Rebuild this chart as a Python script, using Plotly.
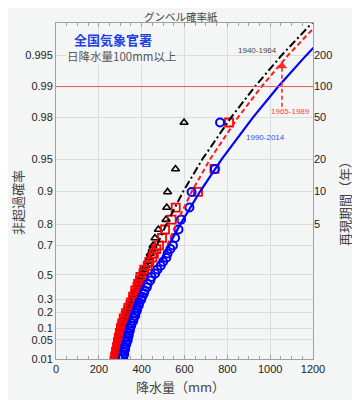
import numpy as np
import plotly.graph_objects as go

# ---------------- data ----------------
# non-exceedance probabilities of the dense lower part of each sample
p_band = [0.004, 0.006, 0.008, 0.010, 0.013, 0.016, 0.020, 0.025, 0.030, 0.036,
          0.043, 0.050, 0.058, 0.067, 0.077, 0.088, 0.100, 0.113, 0.127, 0.142,
          0.158, 0.175, 0.193, 0.212, 0.232, 0.253, 0.275, 0.298, 0.322, 0.347,
          0.373, 0.400, 0.427, 0.455, 0.483, 0.511, 0.540, 0.568, 0.596, 0.624,
          0.651, 0.678]
# non-exceedance probabilities of the largest values (ranks 18-25 of 25)
p_top = [0.699, 0.7389, 0.7787, 0.8185, 0.8583, 0.8981, 0.9379, 0.9777]

x_1940 = [272, 277, 279, 284, 283, 289, 288, 293, 292, 298, 297, 302, 302, 307,
          306, 312, 311, 318, 318, 326, 325, 333, 335, 342, 344, 351, 353, 361,
          362, 370, 371, 380, 381, 391, 395, 405, 409, 421, 426, 435, 440, 449,
          453, 462, 478, 514, 517, 521, 558, 598]
x_1965 = [262, 270, 271, 277, 276, 283, 280, 287, 285, 291, 289, 296, 293, 300,
          298, 305, 303, 311, 309, 318, 316, 325, 327, 336, 338, 347, 350, 361,
          360, 371, 370, 380, 383, 392, 394, 408, 412, 429, 436, 450, 457, 468,
          481, 495, 509, 540, 559, 663, 740, 808]
x_1990 = [297, 305, 308, 314, 313, 319, 318, 323, 321, 328, 330, 335, 334, 340,
          339, 345, 344, 351, 353, 361, 362, 370, 369, 378, 379, 387, 388, 398,
          402, 410, 414, 424, 428, 440, 446, 463, 474, 489, 500, 515, 521, 534,
          546, 556, 572, 584, 623, 633, 742, 766]

# fitted distribution curves
p_fit = [0.6, 0.7, 0.8, 0.9, 0.95, 0.98, 0.99, 0.995, 0.998]
fit_1940 = [None, 471, 515, 595, 684, 817, 929, 1052, 1231]
fit_1965 = [None, 520, 560, 635, 720, 849, 960, 1082, 1261]
fit_1990 = [490, 527, 580, 674, 774, 919, 1038, 1167, 1350]

p_ticks = [0.01, 0.05, 0.1, 0.2, 0.3, 0.5, 0.7, 0.8, 0.9, 0.95, 0.98, 0.99, 0.995]
p_tick_text = ["0.01", "0.05", "0.1", "0.2", "0.3", "0.5", "0.7", "0.8", "0.9",
               "0.95", "0.98", "0.99", "0.995"]
T_ticks = [5, 10, 20, 50, 100, 200]


def gum(p):
    return [None if v is None else -np.log(-np.log(v)) for v in p]


p_all = p_band + p_top

fig = go.Figure()
fig.add_trace(go.Scatter(x=x_1940, y=gum(p_all), mode="markers",
                         marker=dict(symbol="triangle-up-open", size=7, color="black",
                                     line=dict(width=1.6, color="black")),
                         showlegend=False))
fig.add_trace(go.Scatter(x=x_1965, y=gum(p_all), mode="markers",
                         marker=dict(symbol="square-open", size=8, color="#ff0000",
                                     line=dict(width=1.8, color="#ff0000")),
                         showlegend=False))
fig.add_trace(go.Scatter(x=x_1990, y=gum(p_all), mode="markers",
                         marker=dict(symbol="circle-open", size=8, color="#0000ff",
                                     line=dict(width=2, color="#0000ff")),
                         showlegend=False))

fig.add_trace(go.Scatter(x=fit_1940, y=gum(p_fit), mode="lines",
                         line=dict(color="black", width=2, dash="8px,3px,2px,3px"),
                         showlegend=False))
fig.add_trace(go.Scatter(x=fit_1965, y=gum(p_fit), mode="lines",
                         line=dict(color="#ff1a1a", width=2, dash="5px,3px"),
                         showlegend=False))
fig.add_trace(go.Scatter(x=fit_1990, y=gum(p_fit), mode="lines",
                         line=dict(color="#0000ff", width=2.2),
                         showlegend=False))

# dummy trace on the return-period axis
fig.add_trace(go.Scatter(x=[None], y=[None], yaxis="y2", showlegend=False))

# arrow for 1965-1989
arrow_x = [1055, 1055]
arrow_p = [0.9843, 0.9935]
fig.add_trace(go.Scatter(x=arrow_x, y=gum(arrow_p), mode="lines",
                         line=dict(color="#ff2a2a", width=1.6, dash="4px,3px"),
                         showlegend=False))
fig.add_trace(go.Scatter(x=[arrow_x[1]], y=gum([0.9937]), mode="markers",
                         marker=dict(symbol="triangle-up", size=9, color="#ff2a2a"),
                         showlegend=False))

yr = [-np.log(-np.log(0.01)), 6.03]
grid = "#dcdcdc"
# page pixels of the plot area (the page body has an 8px margin)
OFF = 8
L, R, T, B = 56, 313, 23, 359
FW, FH = 360 - OFF, 400 - OFF
fig.update_layout(
    width=FW, height=FH,
    margin=dict(l=L - OFF, r=FW - (R - OFF), t=T - OFF, b=FH - (B - OFF), pad=0),
    paper_bgcolor="#f4f6f6", plot_bgcolor="#f4f6f6",
    font=dict(family="Liberation Sans, Arial, sans-serif", size=11, color="#222"),
    xaxis=dict(range=[0, 1200], tickvals=[0, 200, 400, 600, 800, 1000, 1200],
               showgrid=True, gridcolor=grid, gridwidth=1, zeroline=False,
               showline=True, linecolor="#a0a0a0", mirror="ticks",
               ticks="inside", ticklen=4, tickcolor="#a0a0a0",
               minor=dict(dtick=50, ticks="inside", ticklen=3, tickcolor="#a0a0a0",
                          showgrid=False),
               tickfont=dict(size=11, color="#222")),
    yaxis=dict(range=yr, tickvals=gum(p_ticks), ticktext=p_tick_text,
               showgrid=True, gridcolor=grid, gridwidth=1, zeroline=False,
               showline=True, linecolor="#a0a0a0", mirror=True,
               ticks="", tickfont=dict(size=11, color="#222")),
    yaxis2=dict(range=yr, overlaying="y", side="right",
                tickvals=gum([1 - 1 / T for T in T_ticks]),
                ticktext=[str(T) for T in T_ticks],
                showgrid=False, zeroline=False, showline=False, ticks="",
                tickfont=dict(size=11, color="#222")),
)

# red reference line at p = 0.99
fig.add_shape(type="line", xref="paper", x0=0, x1=1, yref="y",
              y0=gum([0.99])[0], y1=gum([0.99])[0],
              line=dict(color="#e05a5a", width=1))

jp = "Noto Sans CJK JP"


def px(xp, yp):
    return (xp - L) / (R - L), (B - yp) / (B - T)


def ann(text, xp, yp, size, color, angle=0, bold=False, family=jp, bg=None):
    x, y = px(xp, yp)
    fig.add_annotation(text=f"<b>{text}</b>" if bold else text, x=x, y=y,
                       xref="paper", yref="paper", showarrow=False,
                       textangle=angle, font=dict(family=family, size=size, color=color),
                       xanchor="center", yanchor="middle", bgcolor=bg, borderpad=0)


ann("グンベル確率紙", 181, 16, 10.5, "#444")
ann("全国気象官署", 113, 39, 13, "#1f3fe6", bold=True)
ann("日降水量100mm以上", 121, 56, 11.5, "#555", bg="#f4f6f6")
ann("非超過確率", 17, 203, 13, "#444", angle=-90)
ann("再現期間（年）", 344, 201, 13, "#444", angle=-90)
ann("降水量（mm）", 180, 386, 13, "#444")
ann("1940-1964", 257, 50, 8, "#444", family="Liberation Sans, Arial")
ann("1965-1989", 290, 112, 8, "#ff4040", family="Liberation Sans, Arial")
ann("1990-2014", 265, 137, 8, "#3050ff", family="Liberation Sans, Arial")

fig.write_html("out.html")
